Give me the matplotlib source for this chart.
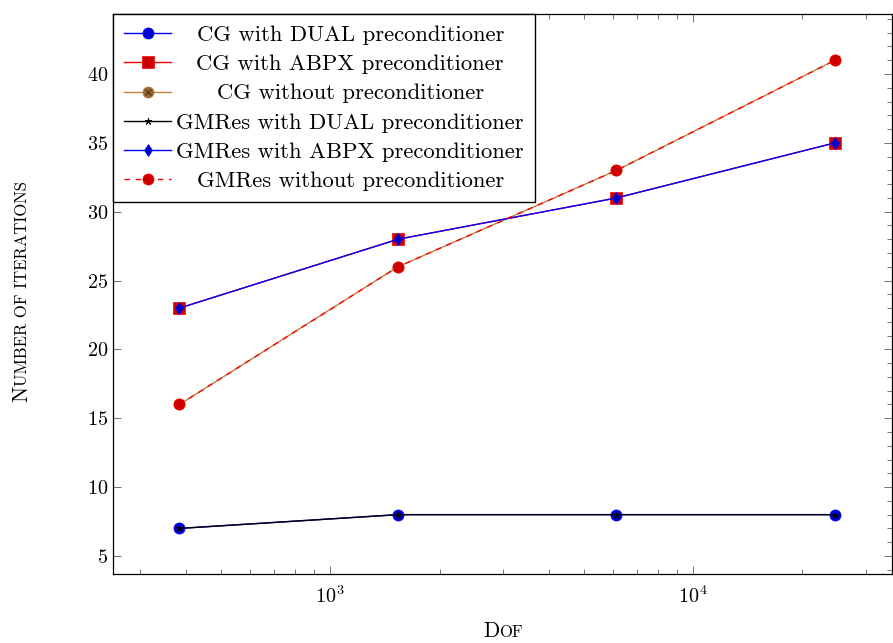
import matplotlib
matplotlib.use("Agg")
import matplotlib.pyplot as plt
from matplotlib.font_manager import FontProperties
from matplotlib.legend_handler import HandlerTuple
from matplotlib.lines import Line2D

# Données
dof = [384, 1536, 6144, 24576]
cg_dual = [7, 8, 8, 8]
cg_abpx = [23, 28, 31, 35]
cg_sans = [16, 26, 33, 41]
gm_dual = [7, 8, 8, 8]
gm_abpx = [23, 28, 31, 35]
gm_sans = [16, 26, 33, 41]

labels = [
    "CG with DUAL preconditioner",
    "CG with ABPX preconditioner",
    "CG without preconditioner",
    "GMRes with DUAL preconditioner",
    "GMRes with ABPX preconditioner",
    "GMRes without preconditioner",
]
yticks = [5, 10, 15, 20, 25, 30, 35, 40]

plt.rcParams["font.family"] = ["cmr10", "DejaVu Serif"]
plt.rcParams["mathtext.fontset"] = "cm"
plt.rcParams["axes.formatter.use_mathtext"] = True
plt.rcParams["axes.unicode_minus"] = False

W, H = 893, 643
fig = plt.figure(figsize=(W / 100, H / 100), dpi=100)
ax = fig.add_axes([113 / W, 69 / H, 779 / W, 560 / H])

BLEU, ROUGE, BRUN = "#0000ff", "#ff0000", "#bf8040"
lw = 1.0

l1, = ax.plot(dof, cg_dual, color=BLEU, lw=lw, marker="o", ms=8,
              mfc="#0000cc", mec=BLEU, mew=0.5)
l2, = ax.plot(dof, cg_abpx, color=ROUGE, lw=lw, marker="s", ms=8,
              mfc="#cc0000", mec=ROUGE, mew=0.5)
l3, = ax.plot(dof, cg_sans, color=BRUN, lw=lw, marker="o", ms=8,
              mfc="#996633", mec=BRUN, mew=0.5)
l4, = ax.plot(dof, gm_dual, color="black", lw=lw, marker=(5, 2, 0), ms=5,
              mew=0.8)
l5, = ax.plot(dof, gm_abpx, color=BLEU, lw=lw, marker="d", ms=6.4,
              mfc="#0000cc", mec=BLEU, mew=0.5)
l6, = ax.plot(dof, gm_sans, color=ROUGE, lw=lw, ls=(0, (4, 4)), marker="o",
              ms=8, mfc="#cc0000", mec=ROUGE, mew=0.5)

ax.set_xscale("log")
ax.set_xlim(252, 35300)
ax.set_ylim(3.69, 44.36)
ax.set_yticks(yticks)
ax.minorticks_on()
ax.yaxis.set_tick_params(which="minor", left=False, right=False)
ax.tick_params(which="both", direction="in", top=True, right=True,
               color="0.45", labelsize=14.5, width=0.7)
ax.tick_params(which="major", length=6)
ax.tick_params(which="minor", length=3.5)
ax.tick_params(axis="x", pad=8)
for sp in ax.spines.values():
    sp.set_linewidth(0.9)

# croix dans le rond marron (uniquement visible dans la légende)
croix = Line2D([], [], ls="none", marker="x", ms=5, mew=0.8, color="#4d3319")
leg = ax.legend([l1, l2, (l3, croix), l4, l5, l6], labels,
                handler_map={tuple: HandlerTuple(ndivide=1, pad=0)},
                loc="upper left", borderaxespad=0, fancybox=False,
                framealpha=1, edgecolor="black", fontsize=16.3,
                handlelength=2.05, handletextpad=0.25, labelspacing=0.41,
                borderpad=0.5)
leg.get_frame().set_linewidth(1.0)

# étiquettes centrées comme dans pgfplots
fig.canvas.draw()
r = fig.canvas.get_renderer()
largeurs = [t.get_window_extent(r).width for t in leg.get_texts()]
for t, w in zip(leg.get_texts(), largeurs):
    t.set_x((max(largeurs) - w) / 2)


def petites_capitales(x, y, morceaux, rotation=0):
    """Simule les petites capitales : (x, y) en pixels, centre de la ligne de base."""
    tailles = []
    for s, fs in morceaux:
        w, _, _ = r.get_text_width_height_descent(
            s, FontProperties(family="cmr10", size=fs), ismath=False)
        tailles.append(w)
    pos = -sum(tailles) / 2
    for (s, fs), w in zip(morceaux, tailles):
        if rotation == 90:
            px, py = x, y + pos
        else:
            px, py = x + pos, y
        fig.text(px / W, py / H, s, fontsize=fs, rotation=rotation,
                 rotation_mode="anchor", ha="left", va="baseline")
        pos += w


petites_capitales(27, H - 292, [("N", 15.5), ("UMBER OF ITERATIONS", 12)], rotation=90)
petites_capitales(503, H - 637, [("D", 15.5), ("OF", 12)])

fig.savefig("out.png", dpi=100)
